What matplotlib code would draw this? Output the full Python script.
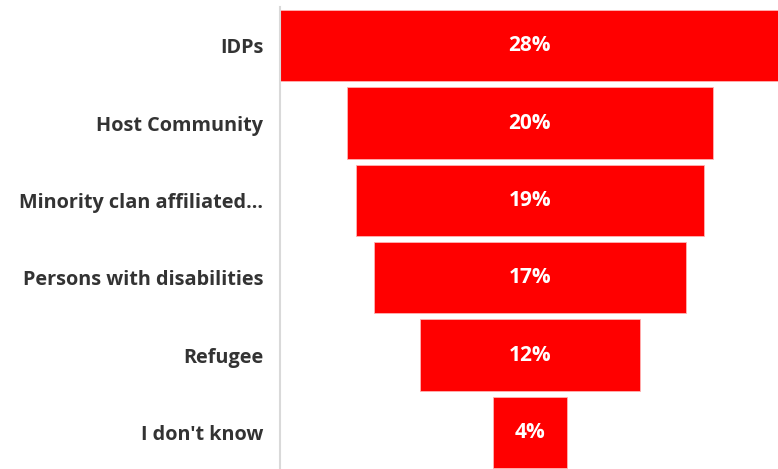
import matplotlib.pyplot as plt

categories = ['IDPs', 'Host Community', 'Minority clan affiliated...',
              'Persons with disabilities', 'Refugee', "I don't know"]
values = [28, 20, 19, 17, 12, 4]
value_labels = ['28%', '20%', '19%', '17%', '12%', '4%']

plt.rcParams['font.family'] = ['Open Sans', 'DejaVu Sans']

fig = plt.figure(figsize=(7.78, 4.69), dpi=100)
ax = fig.add_axes([280 / 778, -2 / 469, 498 / 778, 464 / 469])

# funnel: every bar centred on the middle of the axis
center = 13.65
pos = list(range(len(categories)))
lefts = [center - v / 2 for v in values]
ax.barh(pos, values, left=lefts, height=0.92, color='#ff0000',
        edgecolor='#ffb3b3', linewidth=0.6)

for p, lab in zip(pos, value_labels):
    ax.text(center, p, lab, ha='center', va='center', color='white',
            fontsize=15, fontweight='bold')

ax.set_xlim(0, 27.2)
ax.set_ylim(len(categories) - 0.5, -0.5)
ax.set_yticks(pos)
ax.set_yticklabels(categories, fontsize=14.3, fontweight='bold', color='#333333')
ax.tick_params(axis='y', length=0, pad=12)
ax.set_xticks([])

for side in ['top', 'right', 'bottom']:
    ax.spines[side].set_visible(False)
ax.spines['left'].set_color('#d9d9d9')
ax.spines['left'].set_linewidth(1.5)

fig.savefig('out.png', dpi=100)
